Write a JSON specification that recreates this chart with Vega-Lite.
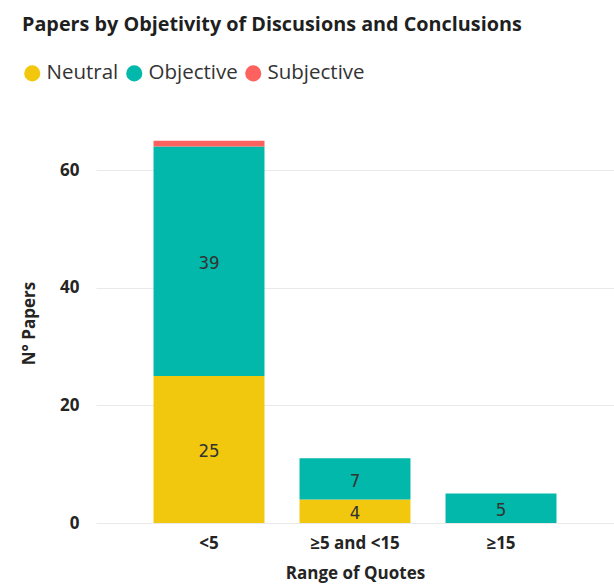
{
  "$schema": "https://vega.github.io/schema/vega-lite/v6.json",
  "width": 518,
  "height": 400,
  "autosize": {"type": "none"},
  "padding": {"left": 96, "top": 123, "right": 0, "bottom": 63},
  "background": "white",
  "title": {
    "text": "Papers by Objetivity of Discusions and Conclusions",
    "anchor": "start",
    "frame": "group",
    "dx": -74,
    "offset": 28,
    "font": "Open Sans",
    "fontSize": 19.8,
    "fontWeight": "bold",
    "color": "#1f1f1f"
  },
  "data": {
    "values": [
      {"range": "<5", "cat": "Neutral", "n": 25},
      {"range": "<5", "cat": "Objective", "n": 39},
      {"range": "<5", "cat": "Subjective", "n": 1},
      {"range": "≥5 and <15", "cat": "Neutral", "n": 4},
      {"range": "≥5 and <15", "cat": "Objective", "n": 7},
      {"range": "≥15", "cat": "Objective", "n": 5}
    ]
  },
  "transform": [
    {"stack": "n", "groupby": ["range"], "sort": [{"field": "cat"}], "as": ["y0", "y1"]},
    {"calculate": "(datum.y0 + datum.y1) / 2", "as": "mid"}
  ],
  "encoding": {
    "x": {
      "field": "range",
      "type": "nominal",
      "sort": ["<5", "≥5 and <15", "≥15"],
      "scale": {"paddingInner": 0.24, "paddingOuter": 0.394},
      "axis": {
        "title": "Range of Quotes",
        "labelAngle": 0,
        "labelFont": "Open Sans",
        "labelFontSize": 17,
        "labelFontWeight": "bold",
        "labelColor": "#252423",
        "labelPadding": 12,
        "titleFont": "Open Sans",
        "titleFontSize": 17,
        "titleFontWeight": "bold",
        "titleColor": "#252423",
        "titlePadding": 14,
        "domain": false,
        "ticks": false
      }
    }
  },
  "layer": [
    {
      "mark": {"type": "bar"},
      "encoding": {
        "y": {
          "field": "y0",
          "type": "quantitative",
          "scale": {"domain": [0, 68], "nice": false},
          "axis": {
            "title": "N° Papers",
            "values": [0, 20, 40, 60],
            "labelFont": "Open Sans",
            "labelFontSize": 17,
            "labelFontWeight": "bold",
            "labelColor": "#252423",
            "labelPadding": 17,
            "titleFont": "Open Sans",
            "titleFontSize": 17,
            "titleFontWeight": "bold",
            "titleColor": "#252423",
            "titlePadding": 21,
            "domain": false,
            "ticks": false,
            "gridColor": "#e9e9e9",
            "gridWidth": 1
          }
        },
        "y2": {"field": "y1"},
        "color": {
          "field": "cat",
          "type": "nominal",
          "scale": {
            "domain": ["Neutral", "Objective", "Subjective"],
            "range": ["#F2C80F", "#01B8AA", "#FD625E"]
          },
          "legend": {
            "title": null,
            "orient": "none",
            "direction": "horizontal",
            "legendX": -74,
            "legendY": -60,
            "symbolType": "circle",
            "symbolSize": 260,
            "symbolStrokeWidth": 0,
            "symbolOpacity": 1,
            "labelFont": "Open Sans",
            "labelFontSize": 20.5,
            "labelColor": "#333333",
            "labelOffset": 4,
            "columnPadding": 5
          }
        }
      }
    },
    {
      "transform": [{"filter": "datum.n > 1"}],
      "mark": {
        "type": "text",
        "font": "DejaVu Sans Condensed",
        "fontSize": 18.5,
        "color": "#333333",
        "baseline": "middle",
        "dy": 2
      },
      "encoding": {
        "y": {"field": "mid", "type": "quantitative"},
        "text": {"field": "n", "type": "quantitative"}
      }
    }
  ],
  "config": {"view": {"stroke": null}}
}
